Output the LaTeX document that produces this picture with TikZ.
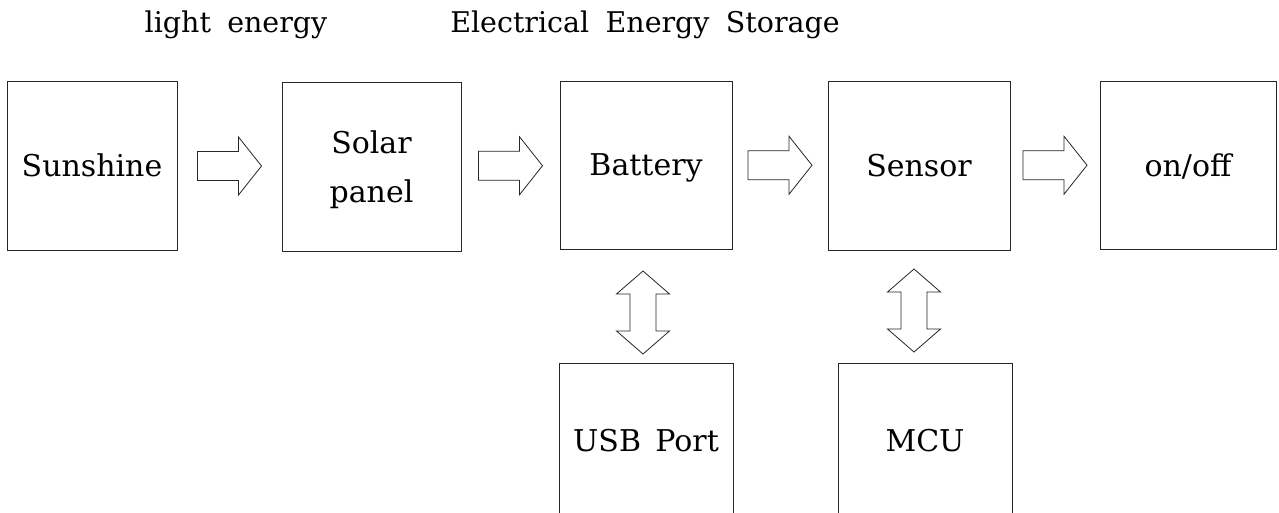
\documentclass[tikz,border=0pt]{standalone}
\usepackage{fontspec}
\setmainfont{DejaVu Serif}[WordSpace=1.8]
\newfontfamily\boxfont{DejaVu Serif}[WordSpace=1.5]
\usetikzlibrary{calc}
\tikzset{
  blk/.style={draw=black!85, line width=0.8pt, inner sep=0pt, outer sep=0pt,
    align=center, text depth=0pt, font=\boxfont\fontsize{30}{49}\selectfont},
  lbl/.style={font=\fontsize{28.5}{34}\selectfont, anchor=base, inner sep=0pt},
  barrow/.style={draw=black!85, line width=0.8pt, fill=white, line join=miter},
  rblk/.pic={\draw[barrow] (-32,-14.5) -- (9,-14.5) -- (9,-29) -- (32,0) -- (9,29) -- (9,14.5) -- (-32,14.5) -- cycle;},
  vblk/.pic={\draw[barrow] (0,-41.5) -- (26.5,-18.5) -- (13,-18.5) -- (13,18.5) -- (26.5,18.5) -- (0,41.5) -- (-26.5,18.5) -- (-13,18.5) -- (-13,-18.5) -- (-26.5,-18.5) -- cycle;}
}
\begin{document}
\begin{tikzpicture}[x=1pt,y=-1pt]
\useasboundingbox (0,0) rectangle (1279,513);
\clip (0,0) rectangle (1279,513);
\node[blk, minimum width=170pt, minimum height=169pt] (sun) at (92,165.5) {Sunshine};
\node[blk, minimum width=179pt, minimum height=169pt] (sol) at (371.5,166.5) {Solar\\panel};
\node[blk, minimum width=172pt, minimum height=168pt] (bat) at (646,165) {Battery};
\node[blk, minimum width=182pt, minimum height=169pt] (sen) at (919,165.5) {Sensor};
\node[blk, minimum width=176pt, minimum height=168pt] (onf) at (1188,165) {on/off};
\node[blk, minimum width=174pt, minimum height=154pt] (usb) at (646,440) {USB Port};
\node[blk, minimum width=174pt, minimum height=154pt] (mcu) at (925,440) {MCU};
\node[lbl] (le) at (236,33) {light energy};
\node[lbl] (ees) at (645,33) {Electrical Energy Storage};
\pic at ($(sun.east)!0.5!(sol.west)$) {rblk};
\pic at ($(sol.east)!0.5!(bat.west)$) {rblk};
\pic at ($(bat.east)!0.5!(sen.west)$) {rblk};
\pic at ($(sen.east)!0.5!(onf.west)$) {rblk};
\pic at ($(bat.south)!0.5!(usb.north)+(-3,6.5)$) {vblk};
\pic at ($(sen.south)!0.5!(mcu.north)+(-8,4)$) {vblk};
\end{tikzpicture}
\end{document}
